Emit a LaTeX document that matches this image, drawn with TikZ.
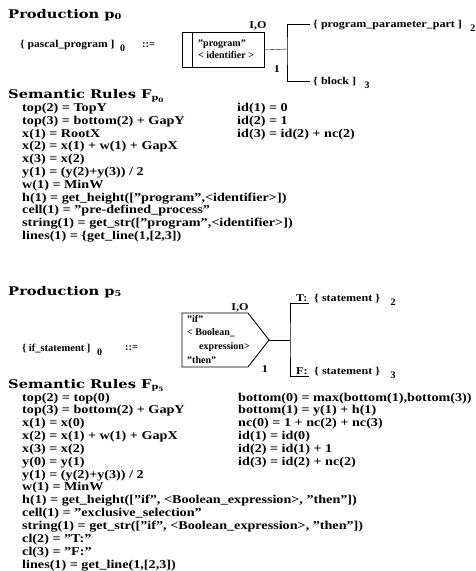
\documentclass[tikz,border=0pt]{standalone}
\usepackage{fontspec}
\setmainfont{Liberation Serif}
\newfontfamily\headfont{DejaVu Serif}
\usetikzlibrary{positioning,calc}

\tikzset{
  head/.style={anchor=base west,inner sep=0pt,font=\headfont\fontsize{12}{14}\selectfont\bfseries,xscale=1.22,transform shape},
  rule/.style={anchor=base west,inner sep=0pt,font=\fontsize{12}{14}\selectfont\bfseries,xscale=1.18,transform shape},
  lbl/.style={inner sep=0pt,font=\fontsize{10.5}{12}\selectfont\bfseries,xscale=1.15,transform shape},
  lhs/.style={anchor=base west,inner sep=0pt,font=\fontsize{10.5}{12}\selectfont\bfseries},
  idx/.style={anchor=base west,inner sep=0pt,font=\fontsize{10}{11}\selectfont\bfseries},
  celltext/.style={inner sep=0pt,align=left,font=\fontsize{10}{12}\selectfont\bfseries},
  cellline/.style={line width=0.9pt},
}

\begin{document}
\begin{tikzpicture}[x=1pt,y=-1pt]
\useasboundingbox (0,0) rectangle (476,571);
% production p0 : pre-defined process
\node[head] (prod0) at (8,18) {Production p\textsubscript{0}};
\node[lhs,xscale=1.1,transform shape] (lhs0) at (20,47) {\{ pascal\_program ]};
\node[idx] (sub0) at (120,51) {0};
\node[lhs] (def0) at (142,47) {::=};
\node[draw,cellline,anchor=north west,inner sep=0pt,minimum width=82pt,minimum height=35pt] (cell0) at (182,32) {};
\draw[cellline] ($(cell0.north west)+(10,0)$) -- ($(cell0.south west)+(10,0)$);
\node[celltext,anchor=west] (str0) at (198,49) {"program"\\< identifier >};
\node[lbl] (io0) at (258,26) {I,O};
\node[lbl] (one0) at (277,69) {1};
\coordinate (fork0) at (287,49);
\node[lbl,anchor=base west] (ch02) at (313,27) {\{ program\_parameter\_part ]};
\node[lbl,anchor=base west] (ch03) at (313,84) {\{ block ]};
\node[idx] (sub02) at ($(ch02.base east)+(8,4)$) {2};
\node[idx] (sub03) at ($(ch03.base east)+(8,4)$) {3};
\draw (cell0.east) -- (fork0);
\draw ([xshift=-3pt]ch02.west) -| (fork0) |- ([xshift=-3pt]ch03.west);
% semantic rules of p0
\node[head] (sem0) at (8,98.5) {Semantic Rules F\textsubscript{p\textsubscript{0}}};
\foreach \t [count=\i] in {{top(2) = TopY},{top(3) = bottom(2) + GapY},{x(1) = RootX},
  {x(2) = x(1) + w(1) + GapX},{x(3) = x(2)},{y(1) = (y(2)+y(3)) / 2},{w(1) = MinW},
  {h(1) = get\_height(["program",<identifier>])},{cell(1) = "pre-defined\_process"},
  {string(1) = get\_str(["program",<identifier>])},{lines(1) = \{get\_line(1,[2,3])}}
  \node[rule] (ra\i) at (22,{111.5+12.8*(\i-1)}) {\t};
\foreach \t [count=\i] in {{id(1) = 0},{id(2) = 1},{id(3) = id(2) + nc(2)}}
  \node[rule] (rb\i) at (237,{111.5+12.8*(\i-1)}) {\t};

% production p5 : exclusive selection
\node[head] (prod5) at (8,295) {Production p\textsubscript{5}};
\node[lhs] (lhs5) at (22,351) {\{ if\_statement ]};
\node[idx] (sub5) at (97,355) {0};
\node[lhs] (def5) at (125,350) {::=};
\coordinate (tip5) at (269,340);
\draw[cellline] (182,313) -- (248,313) -- (tip5) -- (248,367) -- (182,367) -- cycle;
\node[celltext,anchor=north west,font=\fontsize{10}{13.7}\selectfont\bfseries] (str5) at (187,315)
  {"if"\\< Boolean\_\\\hspace{12pt}expression>\\"then"};
\node[lbl] (io5) at (240,308) {I,O};
\node[lbl] (one5) at (265,369) {1};
\coordinate (fork5) at (290,340);
\node[lbl,anchor=base west] (t5) at (296,301) {T:};
\node[lbl,anchor=base west] (f5) at (296,374) {F:};
\node[lbl,anchor=base west] (ch52) at (314,301) {\{ statement \}};
\node[lbl,anchor=base west] (ch53) at (314,374) {\{ statement \}};
\node[idx] (sub52) at ($(ch52.base east)+(10,4)$) {2};
\node[idx] (sub53) at ($(ch53.base east)+(10,4)$) {3};
\draw[cellline] (tip5) -- (fork5);
\draw ([shift={(1,2)}]t5.base east) -| (fork5) |- ([shift={(1,2)}]f5.base east);
% semantic rules of p5
\node[head] (sem5) at (8,388) {Semantic Rules F\textsubscript{p\textsubscript{5}}};
\foreach \t [count=\i] in {{top(2) = top(0)},{top(3) = bottom(2) + GapY},{x(1) = x(0)},
  {x(2) = x(1) + w(1) + GapX},{x(3) = x(2)},{y(0) = y(1)},{y(1) = (y(2)+y(3)) / 2},
  {w(1) = MinW},{h(1) = get\_height(["if", <Boolean\_expression>, "then"])},
  {cell(1) = "exclusive\_selection"},{string(1) = get\_str(["if", <Boolean\_expression>, "then"])},
  {cl(2) = "T:"},{cl(3) = "F:"},{lines(1) = get\_line(1,[2,3])}}
  \node[rule] (rc\i) at (22,{401+12.85*(\i-1)}) {\t};
\foreach \t [count=\i] in {{bottom(0) = max(bottom(1),bottom(3))},{bottom(1) = y(1) + h(1)},
  {nc(0) = 1 + nc(2) + nc(3)},{id(1) = id(0)},{id(2) = id(1) + 1},{id(3) = id(2) + nc(2)}}
  \node[rule] (rd\i) at (238,{401+12.85*(\i-1)}) {\t};
\end{tikzpicture}
\end{document}
